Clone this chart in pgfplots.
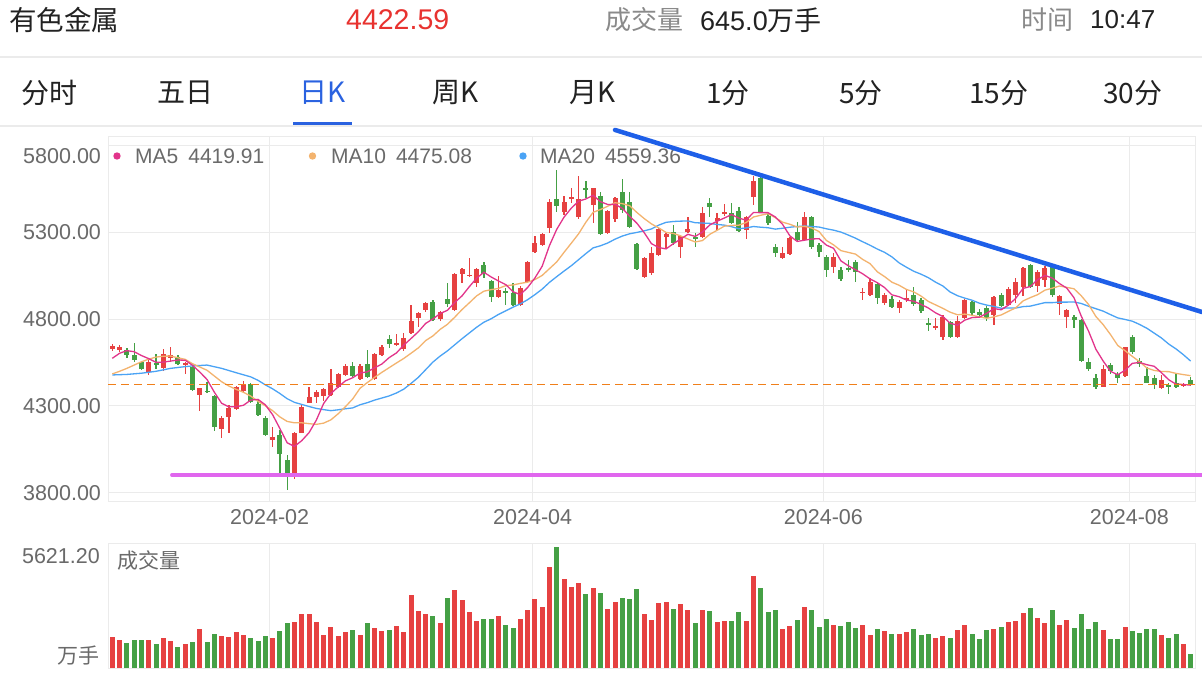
\documentclass[border=0pt]{standalone}
\usepackage{fontspec}
\setmainfont{Liberation Sans}
\newfontfamily\cjk{Noto Sans CJK SC}
\usepackage{pgfplots}
\usepackage{pgfplotstable}
\pgfplotsset{compat=1.18}
\definecolor{upred}{HTML}{E64141}
\definecolor{dngreen}{HTML}{45A045}
\definecolor{mafive}{HTML}{E2348B}
\definecolor{maten}{HTML}{F3B36E}
\definecolor{matwenty}{HTML}{4AA3F5}
\definecolor{trendblue}{HTML}{1E5FE8}
\definecolor{suppc}{HTML}{E066EE}
\definecolor{curc}{HTML}{F07F1A}
\definecolor{gridc}{HTML}{EBEBEB}
\definecolor{lbl}{HTML}{6A6A6A}
\definecolor{hdr}{HTML}{222222}
\definecolor{hgray}{HTML}{8A8A8A}
\definecolor{pricered}{HTML}{E8322F}
\definecolor{tabblue}{HTML}{2A62E0}

\pgfplotstableread{
i o h l c v
0 4630 4657 4619 4645 1456
1 4623 4650 4612 4640 1286
2 4623 4634 4575 4594 1162
3 4594 4661 4555 4565 1301
4 4555 4560 4508 4512 1301
5 4495 4565 4480 4552 1286
6 4546 4600 4512 4538 1131
7 4517 4627 4504 4600 1379
8 4575 4638 4551 4594 1240
9 4584 4592 4535 4542 992
10 4540 4555 4485 4548 1116
11 4523 4528 4388 4392 1208
12 4363 4405 4271 4402 1828
13 4388 4440 4373 4380 1224
14 4359 4363 4158 4177 1580
15 4165 4242 4114 4229 1487
16 4238 4306 4146 4287 1425
17 4281 4415 4275 4408 1673
18 4388 4446 4383 4421 1534
19 4427 4435 4315 4325 1394
20 4311 4340 4240 4248 1270
21 4229 4242 4125 4133 1487
22 4104 4181 4065 4123 1394
23 4133 4162 3915 4023 1704
24 3989 4017 3816 3915 2075
25 3889 4150 3880 4142 2122
26 4146 4305 4142 4296 2493
27 4319 4411 4315 4354 2509
28 4350 4392 4320 4383 2153
29 4358 4402 4330 4396 1549
30 4363 4512 4355 4431 1890
31 4408 4490 4402 4485 1472
32 4479 4540 4475 4532 1658
33 4531 4555 4460 4473 1750
34 4454 4540 4448 4531 1518
35 4542 4623 4460 4465 2075
36 4454 4605 4448 4600 1874
37 4594 4650 4590 4642 1719
38 4685 4709 4633 4656 1766
39 4652 4715 4646 4665 1936
40 4627 4719 4619 4690 1673
41 4719 4882 4715 4790 3391
42 4806 4844 4754 4838 2648
43 4854 4902 4840 4896 2524
44 4902 4910 4790 4796 2431
45 4800 4850 4790 4844 2106
46 4915 5008 4873 4888 3236
47 4854 5065 4850 5061 3623
48 5061 5094 5008 5088 3159
49 5050 5156 5046 5058 2602
50 5011 5094 4988 5088 2168
51 5113 5132 5036 5061 2292
52 5023 5027 4902 4927 2292
53 4927 5050 4921 4969 2416
54 4965 4979 4883 4954 1983
55 4950 5008 4877 4883 1874
56 4883 4992 4877 4979 2261
57 5017 5136 5011 5132 2695
58 5190 5280 5184 5242 3221
59 5229 5300 5223 5292 2850
60 5325 5492 5300 5478 4676
61 5492 5661 5421 5453 5621
62 5421 5511 5402 5478 4119
63 5492 5555 5469 5503 3778
64 5392 5626 5377 5492 3964
65 5555 5600 5498 5546 3438
66 5459 5560 5353 5555 3716
67 5511 5536 5286 5292 3484
68 5296 5430 5292 5426 2741
69 5377 5503 5363 5498 3082
70 5536 5607 5411 5430 3252
71 5478 5536 5325 5330 3190
72 5234 5238 5084 5088 3685
73 5046 5157 5036 5152 2493
74 5065 5215 5056 5180 2246
75 5171 5325 5165 5319 3035
76 5277 5300 5209 5292 3082
77 5305 5344 5228 5238 2741
78 5219 5286 5152 5280 2989
79 5305 5388 5300 5319 2695
80 5273 5300 5219 5261 2075
81 5273 5450 5267 5415 2695
82 5469 5498 5392 5446 2664
83 5369 5411 5315 5382 2122
84 5408 5465 5396 5418 2199
85 5411 5469 5350 5357 2184
86 5426 5450 5305 5311 2617
87 5315 5396 5261 5392 2184
88 5507 5626 5459 5600 4258
89 5613 5619 5411 5415 3716
90 5396 5411 5344 5357 2617
91 5215 5234 5157 5184 2695
92 5152 5219 5146 5180 1797
93 5177 5273 5171 5267 1936
94 5305 5363 5253 5257 2230
95 5257 5421 5253 5392 2834
96 5388 5396 5203 5219 2695
97 5228 5242 5161 5190 1890
98 5161 5171 5046 5084 2261
99 5100 5180 5069 5161 1983
100 5084 5100 5023 5030 1936
101 5094 5142 5075 5082 2137
102 5132 5142 5017 5075 1874
103 4952 4979 4911 4960 1998
104 4940 5036 4935 5017 1518
105 5004 5011 4888 4921 1812
106 4896 4954 4883 4940 1735
107 4915 4935 4863 4869 1596
108 4863 4911 4838 4902 1596
109 4911 4973 4902 4921 1673
110 4940 4984 4877 4888 1828
111 4911 4921 4838 4850 1518
112 4781 4806 4735 4765 1596
113 4755 4806 4738 4760 1379
114 4696 4825 4681 4815 1503
115 4786 4792 4690 4696 1410
116 4696 4819 4690 4792 1766
117 4806 4915 4800 4911 1983
118 4902 4908 4825 4835 1565
119 4844 4858 4815 4825 1332
120 4863 4877 4792 4806 1750
121 4825 4935 4767 4931 1828
122 4940 4954 4873 4877 1905
123 4883 4984 4877 4973 2137
124 4940 5036 4896 5017 2184
125 4988 5104 4935 5094 2571
126 5113 5119 4979 4984 2772
127 4992 5084 4959 5075 2339
128 5025 5110 4988 5095 2106
129 5100 5110 4930 4940 2679
130 4888 4938 4825 4934 1998
131 4815 4858 4748 4854 2215
132 4815 4825 4748 4795 1874
133 4796 4800 4556 4562 2493
134 4556 4575 4504 4512 1797
135 4460 4485 4396 4412 2153
136 4412 4537 4408 4512 1766
137 4537 4550 4485 4504 1363
138 4485 4498 4435 4462 1363
139 4473 4642 4469 4638 1905
140 4696 4710 4600 4613 1719
141 4562 4575 4523 4540 1642
142 4473 4523 4431 4435 1828
143 4460 4479 4396 4421 1797
144 4402 4479 4396 4450 1518
145 4421 4431 4369 4410 1379
146 4435 4489 4402 4412 1596
147 4415 4435 4408 4425 1116
148 4450 4470 4415 4422.59 645
}\kdata

\begin{document}
\begin{tikzpicture}[x=1pt,y=1pt]
\useasboundingbox (0,0) rectangle (1202,-678);
\fill[white] (0,0) rectangle (1202,-678);

% header row
\node[anchor=west,inner sep=0,font=\cjk\fontsize{27.5}{27.5}\selectfont,text=hdr] at (9,-20) {有色金属};
\node[anchor=west,inner sep=0,font=\fontsize{28.5}{28.5}\selectfont,text=pricered] at (346,-20) {4422.59};
\node[anchor=west,inner sep=0,font=\cjk\fontsize{26}{26}\selectfont,text=hgray] at (605,-20) {成交量};
\node[anchor=west,inner sep=0,font=\fontsize{27}{27}\selectfont,text=hdr] at (700,-20) {645.0{\cjk 万手}};
\node[anchor=west,inner sep=0,font=\cjk\fontsize{26}{26}\selectfont,text=hgray] at (1021,-20) {时间};
\node[anchor=west,inner sep=0,font=\fontsize{26}{26}\selectfont,text=hdr] at (1090,-20) {10:47};
\draw[gridc,line width=1.5] (0,-57) -- (1202,-57);

% tabs
\begin{scope}[every node/.style={anchor=west,inner sep=0,font=\cjk\fontsize{28}{28}\selectfont,text=hdr}]
\node at (21,-93) {分时};
\node at (157,-93) {五日};
\node[text=tabblue] at (299,-93) {日K};
\node at (432,-93) {周K};
\node at (569,-93) {月K};
\node at (706,-93) {1分};
\node at (839,-93) {5分};
\node at (969,-93) {15分};
\node at (1103,-93) {30分};
\end{scope}
\draw[gridc,line width=1.5] (0,-126) -- (1202,-126);
\draw[tabblue,line width=3] (293,-123) -- (352,-123);

% MA legend
\fill[mafive] (117,-156) circle (3.7);
\node[anchor=west,inner sep=0,font=\fontsize{21}{21}\selectfont,text=lbl] at (135,-156) {MA5\hspace{10pt}4419.91};
\fill[maten] (312.5,-156) circle (3.7);
\node[anchor=west,inner sep=0,font=\fontsize{21}{21}\selectfont,text=lbl] at (331,-156) {MA10\hspace{10pt}4475.08};
\fill[matwenty] (523,-156) circle (3.7);
\node[anchor=west,inner sep=0,font=\fontsize{21}{21}\selectfont,text=lbl] at (540,-156) {MA20\hspace{10pt}4559.36};

% main candlestick axis
\begin{axis}[
  at={(108pt,-501pt)}, anchor=south west, scale only axis,
  width=1087pt, height=365pt,
  xmin=-0.59, xmax=148.6, ymin=3752, ymax=5857,
  clip=false,
  axis line style={draw=gridc,line width=1pt},
  xtick={21.6,57.7,97.6,139.6},
  xticklabels={2024-02,2024-04,2024-06,2024-08},
  ytick={3800,4300,4800,5300,5800},
  yticklabels={3800.00,4300.00,4800.00,5300.00,\smash{\raisebox{-17.5pt}{5800.00}}},
  major tick length=0pt,
  grid=major, grid style={draw=gridc,line width=1pt},
  tick label style={text=lbl,font=\fontsize{21.5}{21.5}\selectfont},
  yticklabel style={xshift=-3.5pt},
  xticklabel style={yshift=-5pt},
]
% wicks
\addplot[draw=none,mark=none,forget plot,
  restrict expr to domain={\thisrow{c}-\thisrow{o}}{0:100000},
  error bars/.cd, y dir=both, y explicit, error mark=none,
  error bar style={draw=upred,line width=1.3pt}]
  table[x=i, y expr={(\thisrow{h}+\thisrow{l})/2}, y error expr={(\thisrow{h}-\thisrow{l})/2}] {\kdata};
\addplot[draw=none,mark=none,forget plot,
  restrict expr to domain={\thisrow{c}-\thisrow{o}}{-100000:-0.001},
  error bars/.cd, y dir=both, y explicit, error mark=none,
  error bar style={draw=dngreen,line width=1.3pt}]
  table[x=i, y expr={(\thisrow{h}+\thisrow{l})/2}, y error expr={(\thisrow{h}-\thisrow{l})/2}] {\kdata};
% bodies
\addplot[draw=none,mark=none,forget plot,
  restrict expr to domain={\thisrow{c}-\thisrow{o}}{0:100000},
  error bars/.cd, y dir=both, y explicit, error mark=none,
  error bar style={draw=upred,line width=5pt}]
  table[x=i, y expr={(\thisrow{o}+\thisrow{c})/2}, y error expr={max(abs(\thisrow{c}-\thisrow{o})/2,4)}] {\kdata};
\addplot[draw=none,mark=none,forget plot,
  restrict expr to domain={\thisrow{c}-\thisrow{o}}{-100000:-0.001},
  error bars/.cd, y dir=both, y explicit, error mark=none,
  error bar style={draw=dngreen,line width=5pt}]
  table[x=i, y expr={(\thisrow{o}+\thisrow{c})/2}, y error expr={max(abs(\thisrow{c}-\thisrow{o})/2,4)}] {\kdata};

% MA20
\addplot[matwenty,line width=1.3pt,mark=none] coordinates {
(0,4479)(2,4482)(4,4489)(6,4500)(8,4517)(10,4527)(11,4531)(13,4536)(15,4517)(17,4492)(18,4480)(19,4468)(20,4448)(21,4422)(22,4399)(23,4372)(24,4342)(25,4321)(26,4309)(27,4297)(28,4286)(29,4279)(30,4273)(31,4278)(32,4284)(33,4289)(34,4307)(35,4319)(36,4334)(37,4346)(38,4358)(39,4375)(40,4397)(41,4430)(42,4465)(43,4509)(44,4553)(45,4588)(46,4618)(47,4653)(48,4688)(49,4721)(50,4754)(51,4783)(52,4803)(53,4828)(54,4849)(55,4870)(56,4889)(57,4913)(58,4942)(59,4974)(60,5013)(61,5046)(62,5078)(63,5109)(64,5144)(65,5179)(66,5212)(67,5224)(68,5240)(69,5262)(70,5280)(71,5293)(72,5301)(73,5310)(74,5321)(75,5343)(76,5359)(77,5364)(78,5366)(79,5367)(80,5357)(81,5355)(82,5353)(83,5347)(84,5343)(85,5334)(86,5322)(87,5327)(88,5335)(89,5331)(90,5328)(91,5320)(92,5325)(93,5331)(94,5335)(95,5338)(96,5335)(97,5332)(98,5322)(99,5314)(100,5303)(101,5286)(102,5268)(103,5247)(104,5227)(105,5205)(106,5186)(107,5160)(108,5125)(109,5100)(110,5077)(111,5060)(112,5040)(113,5014)(114,4992)(115,4957)(116,4936)(117,4922)(118,4910)(119,4893)(120,4882)(121,4874)(122,4864)(123,4865)(124,4865)(125,4873)(126,4876)(127,4886)(128,4896)(129,4896)(130,4899)(131,4899)(132,4900)(133,4891)(134,4875)(135,4861)(136,4847)(137,4827)(138,4808)(139,4799)(140,4789)(141,4770)(142,4748)(143,4720)(144,4692)(145,4657)(146,4629)(147,4596)(148,4559)};
% MA10
\addplot[maten,line width=1.3pt,mark=none] coordinates {
(0,4485)(1,4500)(2,4517)(3,4536)(4,4555)(5,4570)(6,4582)(7,4587)(8,4588)(9,4578)(10,4569)(11,4544)(12,4525)(13,4506)(14,4473)(15,4440)(16,4415)(17,4396)(18,4379)(19,4357)(20,4327)(21,4301)(22,4273)(23,4237)(24,4211)(25,4203)(26,4203)(27,4198)(28,4194)(29,4201)(30,4220)(31,4255)(32,4296)(33,4341)(34,4402)(35,4435)(36,4465)(37,4494)(38,4521)(39,4548)(40,4574)(41,4604)(42,4635)(43,4677)(44,4704)(45,4742)(46,4771)(47,4812)(48,4856)(49,4895)(50,4935)(51,4962)(52,4971)(53,4978)(54,4994)(55,4998)(56,5007)(57,5014)(58,5029)(59,5053)(60,5092)(61,5131)(62,5186)(63,5239)(64,5293)(65,5360)(66,5417)(67,5433)(68,5452)(69,5472)(70,5467)(71,5455)(72,5416)(73,5381)(74,5350)(75,5327)(76,5301)(77,5295)(78,5281)(79,5263)(80,5246)(81,5254)(82,5290)(83,5313)(84,5337)(85,5341)(86,5343)(87,5358)(88,5390)(89,5400)(90,5409)(91,5386)(92,5360)(93,5348)(94,5332)(95,5336)(96,5326)(97,5306)(98,5255)(99,5229)(100,5196)(101,5186)(102,5176)(103,5145)(104,5121)(105,5074)(106,5046)(107,5014)(108,4996)(109,4972)(110,4958)(111,4934)(112,4903)(113,4883)(114,4863)(115,4841)(116,4826)(117,4830)(118,4823)(119,4814)(120,4806)(121,4814)(122,4825)(123,4846)(124,4866)(125,4906)(126,4925)(127,4942)(128,4968)(129,4979)(130,4992)(131,4984)(132,4976)(133,4935)(134,4885)(135,4816)(136,4769)(137,4712)(138,4649)(139,4619)(140,4586)(141,4555)(142,4519)(143,4505)(144,4499)(145,4498)(146,4488)(147,4481)(148,4475)};
% MA5
\addplot[mafive,line width=1.3pt,mark=none] coordinates {
(0,4575)(1,4604)(2,4619)(3,4613)(4,4591)(5,4573)(6,4552)(7,4553)(8,4559)(9,4565)(10,4564)(11,4535)(12,4496)(13,4453)(14,4380)(15,4316)(16,4295)(17,4296)(18,4304)(19,4334)(20,4338)(21,4307)(22,4250)(23,4170)(24,4088)(25,4067)(26,4100)(27,4146)(28,4218)(29,4314)(30,4372)(31,4410)(32,4445)(33,4463)(34,4490)(35,4497)(36,4520)(37,4542)(38,4579)(39,4606)(40,4651)(41,4689)(42,4728)(43,4776)(44,4802)(45,4833)(46,4852)(47,4897)(48,4935)(49,4988)(50,5037)(51,5071)(52,5044)(53,5021)(54,5000)(55,4959)(56,4942)(57,4983)(58,5038)(59,5106)(60,5225)(61,5319)(62,5389)(63,5441)(64,5481)(65,5494)(66,5515)(67,5478)(68,5462)(69,5463)(70,5440)(71,5395)(72,5354)(73,5300)(74,5236)(75,5214)(76,5206)(77,5236)(78,5262)(79,5290)(80,5278)(81,5303)(82,5344)(83,5365)(84,5384)(85,5404)(86,5383)(87,5372)(88,5416)(89,5415)(90,5415)(91,5390)(92,5347)(93,5281)(94,5249)(95,5256)(96,5263)(97,5265)(98,5228)(99,5209)(100,5137)(101,5109)(102,5086)(103,5062)(104,5033)(105,5011)(106,4983)(107,4941)(108,4930)(109,4911)(110,4904)(111,4886)(112,4865)(113,4837)(114,4816)(115,4777)(116,4766)(117,4795)(118,4810)(119,4812)(120,4834)(121,4862)(122,4855)(123,4882)(124,4921)(125,4978)(126,4989)(127,5029)(128,5053)(129,5038)(130,5006)(131,4980)(132,4924)(133,4817)(134,4731)(135,4627)(136,4559)(137,4500)(138,4480)(139,4506)(140,4546)(141,4551)(142,4538)(143,4529)(144,4492)(145,4451)(146,4426)(147,4424)(148,4420)};

% current price line
\addplot[curc,line width=1.5pt,dash pattern=on 8pt off 5pt,mark=none] coordinates {(-0.59,4422.59) (148.6,4422.59)};
% drawn support and trend lines
\addplot[suppc,line width=4pt,line cap=round,mark=none] coordinates {(8.2,3902) (149.56,3902)};
\addplot[trendblue,line width=4.5pt,line cap=round,mark=none] coordinates {(69.0,5892) (149.56,4842)};
\end{axis}

% volume axis
\begin{axis}[
  at={(108pt,-668pt)}, anchor=south west, scale only axis,
  width=1087pt, height=125pt,
  xmin=-0.59, xmax=148.6, ymin=0, ymax=5800,
  axis line style={draw=gridc,line width=1pt},
  xtick={21.6,57.7,97.6,139.6}, xticklabels={,,,},
  ytick=\empty,
  major tick length=0pt,
  xmajorgrids, grid style={draw=gridc,line width=1pt},
]
\addplot[ycomb,upred,line width=5pt,mark=none,
  restrict expr to domain={\thisrow{c}-\thisrow{o}}{0:100000}]
  table[x=i,y=v] {\kdata};
\addplot[ycomb,dngreen,line width=5pt,mark=none,
  restrict expr to domain={\thisrow{c}-\thisrow{o}}{-100000:-0.001}]
  table[x=i,y=v] {\kdata};
\end{axis}

\node[anchor=east,inner sep=0,font=\fontsize{21.5}{21.5}\selectfont,text=lbl] at (100,-556) {5621.20};
\node[anchor=east,inner sep=0,font=\cjk\fontsize{21}{21}\selectfont,text=lbl] at (100,-656) {万手};
\node[anchor=west,inner sep=0,font=\cjk\fontsize{21}{21}\selectfont,text=lbl] at (117,-560) {成交量};
\end{tikzpicture}
\end{document}
